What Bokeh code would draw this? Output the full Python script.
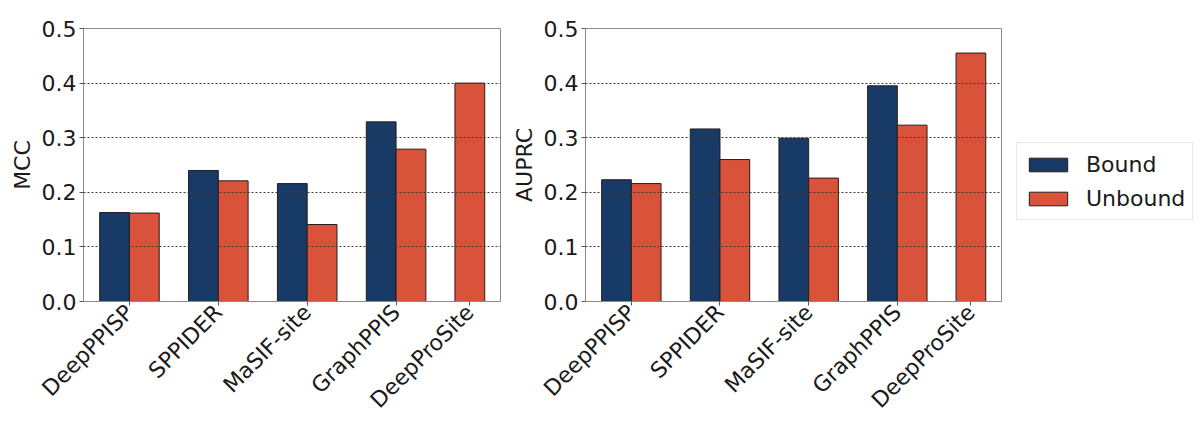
import math
from bokeh.plotting import figure
from bokeh.models import (FixedTicker, PrintfTickFormatter, Legend, LegendItem, Range1d)
from bokeh.layouts import row
from bokeh.embed import file_html
from bokeh.resources import INLINE

# ---- data ----
methods = ["DeepPPISP", "SPPIDER", "MaSIF-site", "GraphPPIS", "DeepProSite"]
mcc_bound = [0.163, 0.240, 0.216, 0.329, None]
mcc_unbound = [0.162, 0.221, 0.141, 0.279, 0.400]
auprc_bound = [0.223, 0.316, 0.299, 0.395, None]
auprc_unbound = [0.216, 0.260, 0.226, 0.323, 0.455]
y_ticks = [0.0, 0.1, 0.2, 0.3, 0.4, 0.5]
series_names = ["Bound", "Unbound"]

# ---- layout ----
tick_pos = [0.0, 1.0, 2.0, 3.0, 3.83]
bar_w = 0.335
NAVY = "#183a66"
RED = "#d9533b"
EDGE = "#2a1c1c"
FONT = "DejaVu Sans"


def make_panel(bound, unbound, ylabel, width, left_border, right_border):
    p = figure(width=width, height=426, output_backend="svg", toolbar_location=None,
               x_range=Range1d(-0.517, 4.175), y_range=Range1d(0, 0.5),
               min_border_left=left_border, min_border_right=right_border,
               min_border_top=28, min_border_bottom=125)
    bx, bt, ux, ut = [], [], [], []
    for xp, b, u in zip(tick_pos, bound, unbound):
        if b is None:
            ux.append(xp)
            ut.append(u)
        else:
            bx.append(xp - bar_w / 2)
            bt.append(b)
            ux.append(xp + bar_w / 2)
            ut.append(u)
    p.vbar(x=bx, top=bt, width=bar_w, fill_color=NAVY, line_color=EDGE, line_width=1)
    p.vbar(x=ux, top=ut, width=bar_w, fill_color=RED, line_color=EDGE, line_width=1)

    p.xgrid.visible = False
    p.ygrid.grid_line_color = "#3a3a3a"
    p.ygrid.grid_line_dash = "2 2"
    p.ygrid.grid_line_width = 1
    p.ygrid.level = "overlay"
    p.ygrid.ticker = FixedTicker(ticks=y_ticks)

    p.outline_line_color = "#8a8a8a"
    p.outline_line_width = 1

    p.yaxis.ticker = FixedTicker(ticks=y_ticks)
    p.yaxis.formatter = PrintfTickFormatter(format="%.1f")
    p.yaxis.axis_label = ylabel
    p.yaxis.axis_label_text_font = FONT
    p.yaxis.axis_label_text_font_size = "22px"
    p.yaxis.axis_label_text_font_style = "normal"
    p.yaxis.axis_label_text_color = "#1a1a1a"
    p.yaxis.axis_label_standoff = 4

    p.xaxis.ticker = FixedTicker(ticks=tick_pos)
    p.xaxis.major_label_overrides = {t: m for t, m in zip(tick_pos, methods)}
    p.xaxis.major_label_orientation = math.pi / 4

    for ax in (p.xaxis, p.yaxis):
        ax.axis_line_color = "#8a8a8a"
        ax.major_tick_line_color = "#555555"
        ax.minor_tick_line_color = None
        ax.major_tick_in = 0
        ax.major_tick_out = 4
        ax.major_label_text_font = FONT
        ax.major_label_text_color = "#1a1a1a"
        ax.major_label_standoff = 3
    p.yaxis.major_label_text_font_size = "22px"
    p.xaxis.major_label_text_font_size = "22px"
    return p


p1 = make_panel(mcc_bound, mcc_unbound, "MCC", 508, 83, 8)
p2 = make_panel(auprc_bound, auprc_unbound, "AUPRC", 501, 75, 8)

# legend panel (no axes; swatches come from zero-size proxy bars hidden under the legend)
p3 = figure(width=191, height=426, output_backend="svg", toolbar_location=None,
            x_range=Range1d(0, 1), y_range=Range1d(0, 1),
            x_axis_location=None, y_axis_location=None,
            min_border_left=0, min_border_right=0, min_border_top=0, min_border_bottom=0)
p3.grid.visible = False
p3.outline_line_color = None
lb = p3.vbar(x=[0.5], top=[0.5], bottom=[0.5], width=0, fill_color=NAVY,
             line_color=EDGE, line_width=1)
lu = p3.vbar(x=[0.5], top=[0.5], bottom=[0.5], width=0, fill_color=RED,
             line_color=EDGE, line_width=1)

legend = Legend(items=[LegendItem(label=series_names[0], renderers=[lb]),
                       LegendItem(label=series_names[1], renderers=[lu])],
                location=(7, 81))
legend.label_text_font = FONT
legend.label_text_font_size = "22px"
legend.label_text_color = "#1a1a1a"
legend.glyph_width = 48
legend.glyph_height = 17
legend.label_height = 28
legend.label_standoff = 14
legend.padding = 7
legend.spacing = 6
legend.margin = 0
legend.border_line_color = "#d0d0d0"
legend.border_line_width = 1
legend.background_fill_alpha = 1.0
p3.add_layout(legend, "center")

layout = row(p1, p2, p3)
open("out.html", "w").write(file_html(layout, INLINE))
